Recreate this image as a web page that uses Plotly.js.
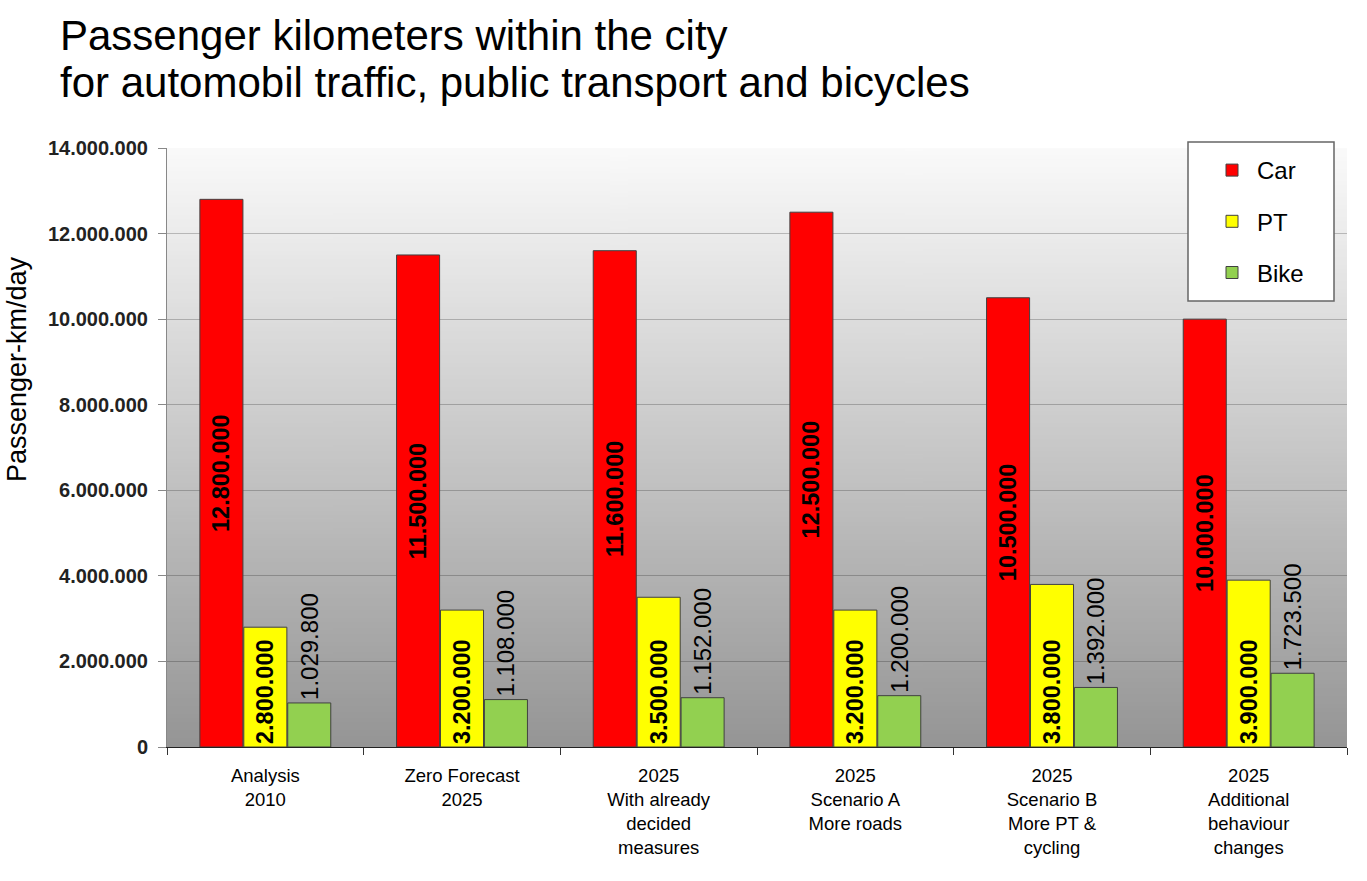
<!DOCTYPE html>
<html><head><meta charset="utf-8">
<script src="https://cdn.plot.ly/plotly-3.0.1.min.js"></script>
<style>body{margin:0;background:#fff}#chart{width:1367px;height:881px}</style>
</head><body><div id="chart"></div>
<script>
const categories = ["Analysis<br>2010","Zero Forecast<br>2025","2025<br>With already<br>decided<br>measures","2025<br>Scenario A<br>More roads","2025<br>Scenario B<br>More PT &<br>cycling","2025<br>Additional<br>behaviour<br>changes"];
const carValues = [12800000, 11500000, 11600000, 12500000, 10500000, 10000000];
const ptValues = [2800000, 3200000, 3500000, 3200000, 3800000, 3900000];
const bikeValues = [1029800, 1108000, 1152000, 1200000, 1392000, 1723500];
const yTickValues = [0, 2000000, 4000000, 6000000, 8000000, 10000000, 12000000, 14000000];
const titleLines = ["Passenger kilometers within the city", "for automobil traffic, public transport and bicycles"];
const yTitle = "Passenger-km/day";

function fmt(v){ return String(v).replace(/\B(?=(\d{3})+(?!\d))/g, "."); }

// plot geometry (pixels)
const W = 1367, H = 881, L = 167, R = 20, T = 148, B = 134;
const pw = W - L - R, ph = H - T - B;
const px = x => (x - L) / pw;
const py = y => (H - B - y) / ph;

// gradient background
const cv = document.createElement('canvas'); cv.width = 4; cv.height = 300;
const ctx = cv.getContext('2d');
const g = ctx.createLinearGradient(0,0,0,300);
g.addColorStop(0,'#fafafa'); g.addColorStop(1,'#959595');
ctx.fillStyle = g; ctx.fillRect(0,0,4,300);
const bg = cv.toDataURL();

const line = {color:'#404040', width:1};
const traces = [
 {type:'bar', name:'Car', x:categories, y:carValues, text:carValues.map(fmt), marker:{color:'#ff0000', line:line},
  textposition:'inside', insidetextanchor:'middle', textangle:-90, constraintext:'none',
  textfont:{family:'Arial', size:23.5, color:'#000', weight:'bold'}, legendgroup:'a', hoverinfo:'y'},
 {type:'bar', name:'PT', x:categories, y:ptValues, text:ptValues.map(fmt), marker:{color:'#ffff00', line:line},
  textposition:'inside', insidetextanchor:'start', textangle:-90, constraintext:'none',
  textfont:{family:'Arial', size:23.5, color:'#000', weight:'bold'}, legendgroup:'b', hoverinfo:'y'},
 {type:'bar', name:'Bike', x:categories, y:bikeValues, text:bikeValues.map(fmt), marker:{color:'#92d050', line:line},
  textposition:'outside', textangle:-90, constraintext:'none', cliponaxis:false,
  textfont:{family:'Arial', size:24, color:'#000'}, legendgroup:'c', hoverinfo:'y'}
];

const layout = {
 width:W, height:H,
 margin:{l:L, r:R, t:T, b:B},
 paper_bgcolor:'#ffffff', plot_bgcolor:'rgba(0,0,0,0)',
 separators:',.',
 font:{family:'Arial', color:'#000'},
 showlegend:true,
 barmode:'group', bargap:0.33, bargroupgap:0.02,
 xaxis:{type:'category', tickson:'boundaries', ticks:'outside', ticklen:7, tickcolor:'#333',
   showline:true, linecolor:'#222', linewidth:1, showgrid:false, ticklabelstandoff:12,
   tickfont:{family:'Arial', size:18.5, color:'#000'}},
 yaxis:{range:[0,14000000], tickvals:yTickValues, ticktext:yTickValues.map(fmt), ticks:'outside', ticklen:8, tickcolor:'#888',
   showline:true, linecolor:'#888', linewidth:1, gridcolor:'rgba(0,0,0,0.22)', gridwidth:1, zeroline:false,
   ticklabelstandoff:6,
   tickfont:{family:'Arial', size:20, color:'#222', weight:'bold'}},
 legend:{x:px(1207), y:1.0, xanchor:'left', yanchor:'top', bgcolor:'rgba(0,0,0,0)', borderwidth:0,
   font:{family:'Arial', size:24, color:'#000'}, traceorder:'grouped', tracegroupgap:17, itemwidth:40},
 shapes:[{type:'rect', xref:'paper', yref:'paper', x0:px(1188), x1:px(1334), y0:py(142), y1:py(301),
   fillcolor:'#ffffff', line:{color:'#666', width:1.5}, layer:'above'}],
 annotations:[
  {text:titleLines[0], xref:'paper', yref:'paper', x:px(58), y:py(35), xanchor:'left', yanchor:'middle', showarrow:false,
   font:{family:'Arial', size:42, color:'#000'}},
  {text:titleLines[1], xref:'paper', yref:'paper', x:px(58), y:py(82), xanchor:'left', yanchor:'middle', showarrow:false,
   font:{family:'Arial', size:42, color:'#000'}},
  {text:yTitle, xref:'paper', yref:'paper', x:px(17), y:py(369), xanchor:'center', yanchor:'middle', textangle:-90, showarrow:false,
   font:{family:'Arial', size:27, color:'#000'}}
 ],
 images:[{source:bg, xref:'paper', yref:'paper', x:0, y:1, sizex:1, sizey:1, sizing:'stretch', layer:'below', xanchor:'left', yanchor:'top'}]
};
Plotly.newPlot('chart', traces, layout, {displayModeBar:false});
</script></body></html>
